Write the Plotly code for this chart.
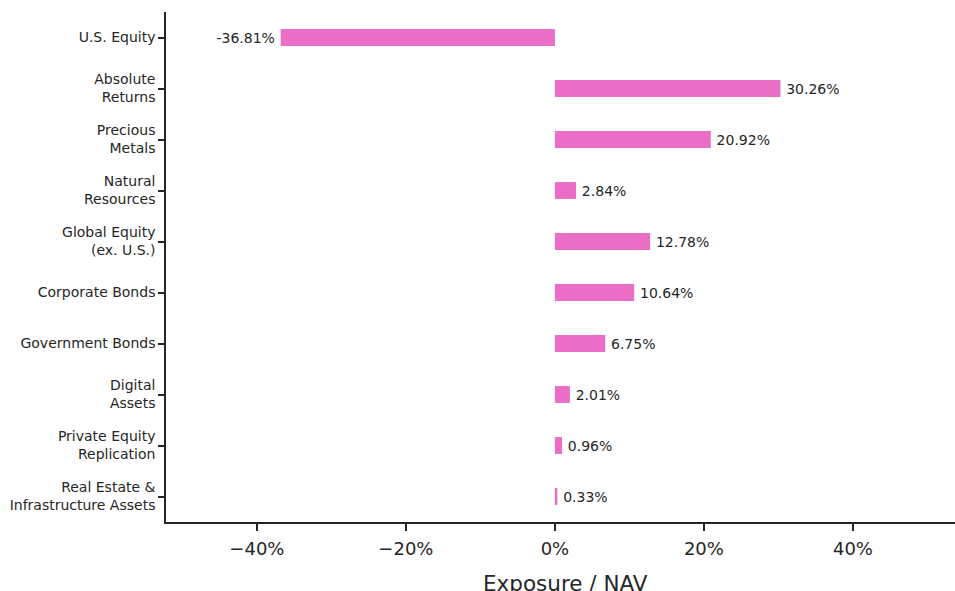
import plotly.graph_objects as go

categories = ["U.S. Equity", "Absolute<br>Returns", "Precious<br>Metals", "Natural<br>Resources",
              "Global Equity<br>(ex. U.S.)", "Corporate Bonds", "Government Bonds", "Digital<br>Assets",
              "Private Equity<br>Replication", "Real Estate &<br>Infrastructure Assets"]
values = [-36.81, 30.26, 20.92, 2.84, 12.78, 10.64, 6.75, 2.01, 0.96, 0.33]
x_ticks = [-40, -20, 0, 20, 40]
x_tick_labels = ["\u221240%", "\u221220%", "0%", "20%", "40%"]
x_title = "Exposure / NAV"

font = "DejaVu Sans"
labels = [(f"{v:.2f}%\u2009" if v < 0 else f"\u2009{v:.2f}%") for v in values]
fig = go.Figure(go.Bar(
    x=values, y=categories, orientation="h",
    marker=dict(color="#EA6DC6", line=dict(width=0)),
    width=0.33,
    text=labels,
    textposition="outside",
    textfont=dict(family=font, size=14, color="#262626"),
    cliponaxis=False,
    hoverinfo="skip",
))
fig.update_layout(
    width=955, height=591,
    margin=dict(l=166, r=0, t=12, b=69),
    plot_bgcolor="white", paper_bgcolor="white",
    showlegend=False,
    font=dict(family=font, color="#262626"),
    xaxis=dict(range=[-52.2, 53.7], tickvals=x_ticks, ticktext=x_tick_labels,
               tickfont=dict(size=18), showgrid=False, zeroline=False, automargin=False,
               showline=True, linecolor="#262626", linewidth=1.5,
               ticks="outside", ticklen=7, tickwidth=1.5, tickcolor="#262626",
               ticklabelstandoff=3),
    yaxis=dict(autorange=False, range=[9.5, -0.5], categoryorder="array", categoryarray=categories,
               tickfont=dict(size=14), showgrid=False, zeroline=False, automargin=False,
               showline=True, linecolor="#262626", linewidth=1.5,
               ticks="outside", ticklen=6, tickwidth=1.5, tickcolor="#262626"),
    annotations=[dict(text=x_title, xref="paper", yref="paper", x=0.506, y=-0.12,
                      xanchor="center", yanchor="middle", showarrow=False,
                      font=dict(family=font, size=21.5, color="#262626"))],
)
fig.write_html("out.html", config={"displayModeBar": False},
               post_script="document.body.style.margin='0';document.body.style.overflow='hidden';")
